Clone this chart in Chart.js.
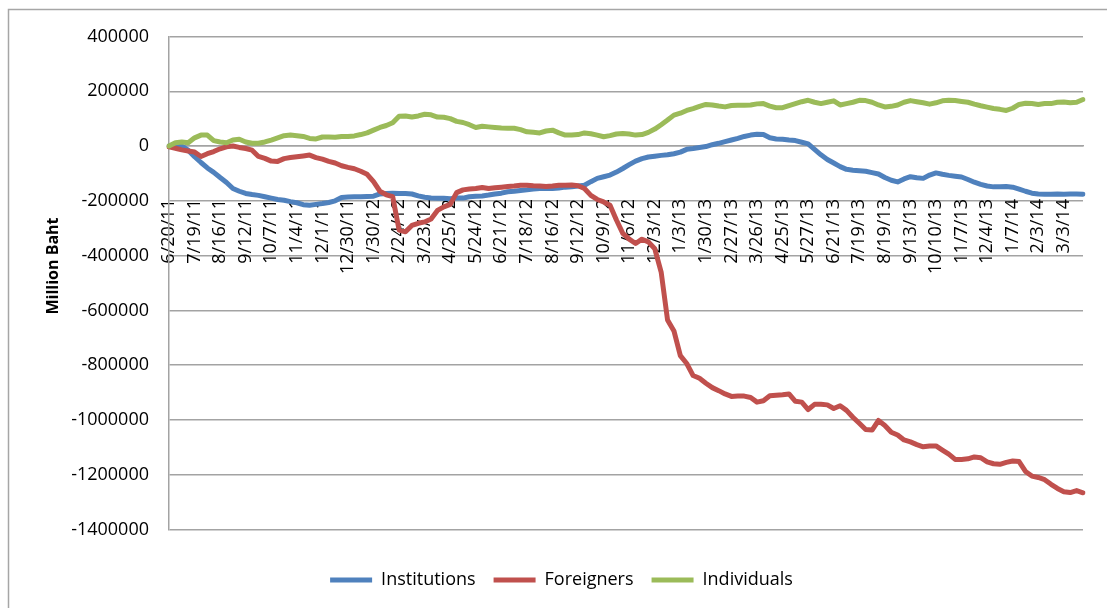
<!DOCTYPE html>
<html>
<head>
<meta charset="utf-8">
<script src="https://cdn.jsdelivr.net/npm/chart.js@4.4.1/dist/chart.umd.min.js"></script>
<style>
  html, body { margin: 0; padding: 0; background: #ffffff; }
  #wrap { width: 1107px; height: 608px; position: relative; }
  canvas { display: block; }
</style>
</head>
<body>
<div id="wrap"><canvas id="c" width="1107" height="608"></canvas></div>
<script>
// Tick labels shown on the category axis (one every 4 data points)
const tickLabels = ["6/20/11","7/19/11","8/16/11","9/12/11","10/7/11","11/4/11","12/1/11","12/30/11",
  "1/30/12","2/24/12","3/23/12","4/25/12","5/24/12","6/21/12","7/18/12","8/16/12","9/12/12","10/9/12",
  "11/6/12","12/3/12","1/3/13","1/30/13","2/27/13","3/26/13","4/25/13","5/27/13","6/21/13","7/19/13",
  "8/19/13","9/13/13","10/10/13","11/7/13","12/4/13","1/7/14","2/3/14","3/3/14"];
const pointsPerTick = 4;

const seriesNames = ["Institutions", "Foreigners", "Individuals"];

// Cumulative net buy/sell (Million Baht)
const institutions = [
  0,-2000,0,-15000,-39000,-60000,-80000,-96000,-115000,-133000,
  -155000,-165000,-173000,-177000,-180000,-185000,-190000,-195000,-198000,-203000,
  -207000,-214000,-216000,-213000,-210000,-206000,-200000,-188000,-186000,-185000,
  -185000,-184000,-183000,-175000,-173000,-172000,-173000,-173000,-175000,-182000,
  -187000,-190000,-191000,-191000,-192000,-190000,-190000,-185000,-183000,-182000,
  -179000,-175000,-172000,-167000,-165000,-162000,-160000,-157000,-155000,-155000,
  -155000,-153000,-150000,-149000,-146000,-143000,-130000,-118000,-112000,-106000,
  -95000,-82000,-68000,-55000,-46000,-40000,-37000,-34000,-32000,-28000,
  -22000,-12000,-9000,-5000,-2000,5000,10000,16000,22000,28000,
  35000,40000,43000,42000,30000,26000,25000,22000,20000,14000,
  8000,-12000,-32000,-49000,-62000,-75000,-85000,-88000,-90000,-92000,
  -97000,-102000,-115000,-125000,-131000,-120000,-112000,-116000,-118000,-106000,
  -98000,-103000,-107000,-110000,-113000,-122000,-132000,-140000,-146000,-149000,
  -149000,-148000,-150000,-157000,-165000,-172000,-175000,-176000,-176000,-175000,
  -176000,-175000,-175000,-176000
];
const foreigners = [
  -3000,-8000,-14000,-18000,-22000,-38000,-28000,-20000,-10000,-3000,
  0,-5000,-9000,-15000,-38000,-45000,-55000,-56000,-46000,-42000,
  -39000,-36000,-33000,-42000,-48000,-56000,-62000,-72000,-78000,-83000,
  -92000,-103000,-130000,-165000,-178000,-185000,-307000,-313000,-290000,-282000,
  -277000,-266000,-235000,-222000,-213000,-170000,-160000,-157000,-155000,-151000,
  -155000,-152000,-150000,-148000,-146000,-143000,-143000,-145000,-146000,-148000,
  -146000,-143000,-143000,-142000,-145000,-155000,-180000,-195000,-204000,-216000,
  -270000,-319000,-340000,-356000,-340000,-350000,-375000,-460000,-635000,-675000,
  -765000,-794000,-838000,-848000,-866000,-882000,-893000,-905000,-914000,-913000,
  -913000,-918000,-935000,-930000,-912000,-910000,-908000,-905000,-932000,-935000,
  -962000,-943000,-943000,-945000,-958000,-948000,-965000,-990000,-1012000,-1035000,
  -1037000,-1002000,-1020000,-1045000,-1055000,-1073000,-1080000,-1090000,-1098000,-1095000,
  -1095000,-1110000,-1125000,-1144000,-1144000,-1142000,-1135000,-1138000,-1153000,-1160000,
  -1162000,-1155000,-1150000,-1152000,-1188000,-1205000,-1210000,-1218000,-1235000,-1250000,
  -1262000,-1265000,-1258000,-1266000
];
const individuals = [
  0,12000,15000,12000,30000,40000,40000,20000,15000,12000,
  22000,25000,15000,10000,10000,15000,22000,30000,38000,40000,
  38000,35000,28000,26000,33000,33000,32000,35000,35000,37000,
  42000,48000,58000,68000,75000,85000,109000,110000,106000,110000,
  116000,114000,106000,105000,100000,90000,86000,78000,68000,72000,
  70000,68000,66000,65000,65000,60000,52000,50000,48000,55000,
  58000,48000,40000,40000,42000,48000,45000,40000,34000,38000,
  44000,46000,44000,40000,42000,50000,62000,78000,95000,113000,
  120000,130000,137000,145000,152000,150000,146000,143000,148000,149000,
  149000,150000,154000,155000,146000,140000,140000,148000,155000,162000,
  167000,160000,155000,160000,165000,150000,155000,160000,167000,166000,
  160000,150000,143000,145000,150000,160000,166000,162000,158000,153000,
  158000,165000,167000,166000,163000,160000,153000,147000,142000,137000,
  134000,130000,138000,152000,156000,155000,152000,155000,155000,160000,
  161000,158000,160000,170000
];

const yTicks = { min: -1400000, max: 400000, step: 200000 };
const axisTitle = "Million Baht";

// Category labels; every label is padded at its start with figure spaces
// (same width as a digit) so all rotated labels share the same end point.
const labels = institutions.map((_, i) => {
  if (i % pointsPerTick !== 0) return '';
  const t = tickLabels[i / pointsPerTick] || '';
  const digits = t.replace(/[^0-9]/g, '').length;
  return '\u2007'.repeat(Math.max(0, 6 - digits)) + t;
});

const FONT = "'Open Sans', 'Liberation Sans', sans-serif";
const GRID = '#a3a3a3';

const frameAndTitle = {
  id: 'frameAndTitle',
  beforeDraw(chart) {
    const ctx = chart.ctx;
    ctx.save();
    ctx.fillStyle = '#ffffff';
    ctx.fillRect(0, 0, chart.width, chart.height);
    ctx.strokeStyle = '#a6a6a6';
    ctx.lineWidth = 1.5;
    ctx.strokeRect(8.5, 9.5, 2000, 2000);
    ctx.restore();
  },
  afterDraw(chart) {
    const ctx = chart.ctx;
    ctx.save();
    ctx.translate(53, 266);
    ctx.rotate(-Math.PI / 2);
    ctx.font = "bold 16px " + FONT;
    ctx.fillStyle = '#000000';
    ctx.textAlign = 'center';
    ctx.textBaseline = 'middle';
    ctx.fillText(axisTitle, 0, 0);
    ctx.restore();
  }
};

new Chart(document.getElementById('c'), {
  type: 'line',
  data: {
    labels: labels,
    datasets: [
      { label: seriesNames[0], data: institutions, borderColor: '#4F81BD', backgroundColor: '#4F81BD', order: 3 },
      { label: seriesNames[1], data: foreigners, borderColor: '#C0504D', backgroundColor: '#C0504D', order: 2 },
      { label: seriesNames[2], data: individuals, borderColor: '#9BBB59', backgroundColor: '#9BBB59', order: 1 }
    ].map(d => Object.assign(d, { borderWidth: 5, pointRadius: 0, tension: 0, fill: false, borderCapStyle: 'round', borderJoinStyle: 'round' }))
  },
  options: {
    responsive: false,
    animation: false,
    devicePixelRatio: 1,
    layout: { padding: { top: 36.5, right: 24, bottom: 9, left: 40 } },
    plugins: {
      tooltip: { enabled: false },
      legend: {
        position: 'bottom',
        title: { display: true, text: '', font: { size: 10 }, padding: { top: 11.5, bottom: 0 } },
        labels: {
          usePointStyle: true,
          pointStyle: 'line',
          pointStyleWidth: 42,
          boxHeight: 18,
          padding: 18,
          color: '#000000',
          font: { family: FONT, size: 18 },
          sort: (a, b) => a.datasetIndex - b.datasetIndex
        }
      }
    },
    scales: {
      x: {
        type: 'category',
        position: { y: 0 },
        grid: { display: false, drawTicks: false },
        border: { display: true, color: GRID, width: 1.5 },
        ticks: {
          autoSkip: false,
          maxRotation: 90,
          minRotation: 90,
          padding: 53,
          color: '#000000',
          font: { family: FONT, size: 18 },
          callback: (v, i) => labels[i]
        },
        afterFit: (s) => { s.paddingLeft = 0; s.paddingRight = 0; }
      },
      y: {
        min: yTicks.min,
        max: yTicks.max,
        ticks: {
          stepSize: yTicks.step,
          padding: 20,
          color: '#000000',
          font: { family: FONT, size: 18 },
          callback: (v) => String(v)
        },
        grid: { color: GRID, lineWidth: 1.5, drawTicks: false },
        border: { display: true, color: GRID, width: 1.5 },
        afterFit: (s) => { s.width = 129; }
      }
    }
  },
  plugins: [frameAndTitle]
});
</script>
</body>
</html>
